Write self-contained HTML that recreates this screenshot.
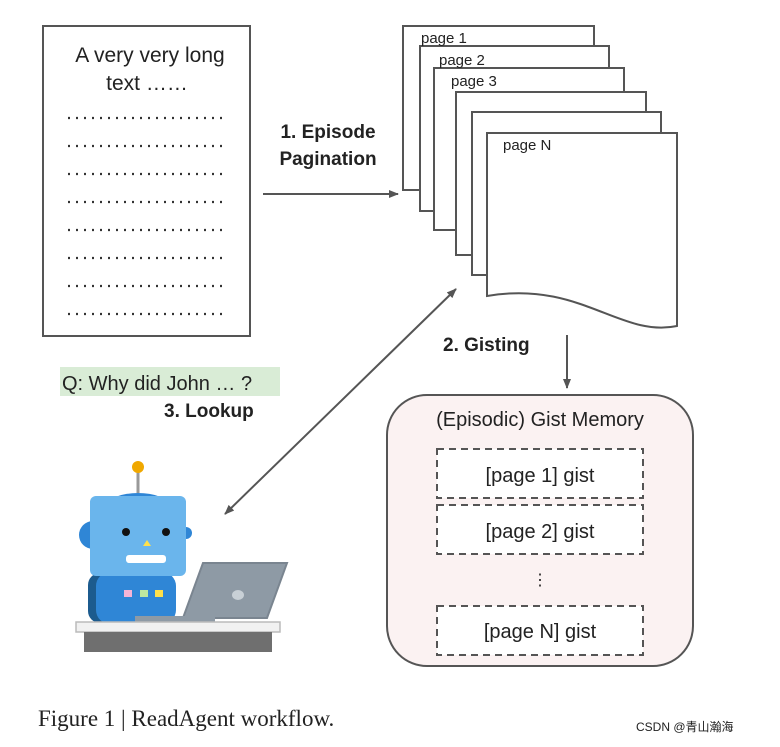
<!DOCTYPE html>
<html><head><meta charset="utf-8"><style>
body{margin:0;background:#fff;}
svg text{font-family:"Liberation Sans",Arial,sans-serif;fill:#222;}
</style></head><body>
<svg width="780" height="742" viewBox="0 0 780 742" xmlns="http://www.w3.org/2000/svg">
<defs><marker id="a" markerWidth="10" markerHeight="8" refX="9" refY="4" orient="auto" markerUnits="userSpaceOnUse"><path d="M0,0 L10,4 L0,8z" fill="#555"/></marker>
<marker id="b" markerWidth="10" markerHeight="8" refX="1" refY="4" orient="auto" markerUnits="userSpaceOnUse"><path d="M10,0 L0,4 L10,8z" fill="#555"/></marker></defs>
<rect x="43" y="26" width="207" height="310" fill="#fff" stroke="#555" stroke-width="2"/>
<text x="150" y="62" font-size="21" text-anchor="middle">A very very long</text>
<text x="147" y="90" font-size="21" text-anchor="middle">text ……</text>
<g stroke="#333" stroke-width="2.2" stroke-dasharray="2 6">
<line x1="68" y1="118" x2="228" y2="118"/><line x1="68" y1="146" x2="228" y2="146"/><line x1="68" y1="174" x2="228" y2="174"/><line x1="68" y1="202" x2="228" y2="202"/><line x1="68" y1="230" x2="228" y2="230"/><line x1="68" y1="258" x2="228" y2="258"/><line x1="68" y1="286" x2="228" y2="286"/><line x1="68" y1="314" x2="228" y2="314"/>
</g>
<text x="328" y="138" font-size="19" font-weight="bold" text-anchor="middle">1. Episode</text>
<text x="328" y="165" font-size="19" font-weight="bold" text-anchor="middle">Pagination</text>
<line x1="263" y1="194" x2="398" y2="194" stroke="#555" stroke-width="2" marker-end="url(#a)"/>
<g fill="#fff" stroke="#555" stroke-width="2">
<path d="M420,190 H403 V26 H594 V46"/><path d="M434,211 H420 V46 H609 V68"/><path d="M456,230 H434 V68 H624 V92"/><path d="M472,255 H456 V92 H646 V112"/><path d="M487,275 H472 V112 H661 V133"/>
<path d="M487,296 V133 H677 V326 C620,338 580,280 487,296 Z"/>
</g>
<text x="421" y="43" font-size="15">page 1</text>
<text x="439" y="65" font-size="15">page 2</text>
<text x="451" y="86" font-size="15">page 3</text>
<text x="503" y="150" font-size="15">page N</text>
<line x1="225" y1="514" x2="456" y2="289" stroke="#555" stroke-width="2" marker-end="url(#a)" marker-start="url(#b)"/>
<text x="443" y="351" font-size="19" font-weight="bold">2. Gisting</text>
<line x1="567" y1="335" x2="567" y2="388" stroke="#555" stroke-width="2" marker-end="url(#a)"/>
<rect x="387" y="395" width="306" height="271" rx="40" fill="#fbf2f2" stroke="#555" stroke-width="2"/>
<text x="540" y="426" font-size="20" text-anchor="middle">(Episodic) Gist Memory</text>
<g fill="#fff" stroke="#555" stroke-width="2" stroke-dasharray="7 5">
<rect x="437" y="449" width="206" height="49"/><rect x="437" y="505" width="206" height="49"/><rect x="437" y="606" width="206" height="49"/>
</g>
<text x="540" y="482" font-size="20" text-anchor="middle">[page 1] gist</text>
<text x="540" y="538" font-size="20" text-anchor="middle">[page 2] gist</text>
<text x="540" y="638" font-size="20" text-anchor="middle">[page N] gist</text>
<text x="540" y="585" font-size="16" text-anchor="middle">⋮</text>
<rect x="60" y="367" width="220" height="29" fill="#d9ecd6"/>
<text x="62" y="390" font-size="20">Q: Why did John … ?</text>
<text x="164" y="417" font-size="19" font-weight="bold">3. Lookup</text>
<line x1="138" y1="470" x2="138" y2="493" stroke="#999" stroke-width="3"/>
<circle cx="138" cy="467" r="6" fill="#f0a800"/>
<ellipse cx="138" cy="505" rx="30" ry="12" fill="#2f86d6"/>
<circle cx="93" cy="535" r="14" fill="#2f86d6"/>
<circle cx="186" cy="533" r="6" fill="#2f86d6"/>
<rect x="88" y="573" width="32" height="50" rx="12" fill="#1c5b8e"/>
<rect x="96" y="572" width="80" height="52" rx="14" fill="#2f86d6"/>
<rect x="90" y="496" width="96" height="80" rx="6" fill="#6ab5ec"/>
<circle cx="126" cy="532" r="4" fill="#111"/><circle cx="166" cy="532" r="4" fill="#111"/>
<path d="M143,546 L147,540 L151,546z" fill="#ffe04a"/>
<rect x="126" y="555" width="40" height="8" rx="3" fill="#fff"/>
<rect x="124" y="590" width="8" height="7" fill="#f5b4d6"/><rect x="140" y="590" width="8" height="7" fill="#bde8a0"/><rect x="155" y="590" width="8" height="7" fill="#ffe04a"/>
<path d="M203,563 L287,563 L267,618 L183,618 Z" fill="#8e9aa5" stroke="#7a8590" stroke-width="2"/>
<ellipse cx="238" cy="595" rx="6" ry="5" fill="#c8d0d6"/>
<rect x="135" y="616" width="80" height="6" fill="#8e9aa5"/>
<rect x="76" y="622" width="204" height="10" fill="#f1f1f1" stroke="#bbb" stroke-width="1.5"/>
<rect x="84" y="632" width="188" height="20" fill="#6f6f6f"/>
<text x="38" y="726" font-size="23" style="font-family:'Liberation Serif',serif" fill="#222">Figure 1 | ReadAgent workflow.</text>
<text x="636" y="731" font-size="12" fill="#aaa" style="font-family:'Liberation Sans','Noto Sans CJK SC',sans-serif">CSDN @青山瀚海</text>
</svg>
</body></html>
